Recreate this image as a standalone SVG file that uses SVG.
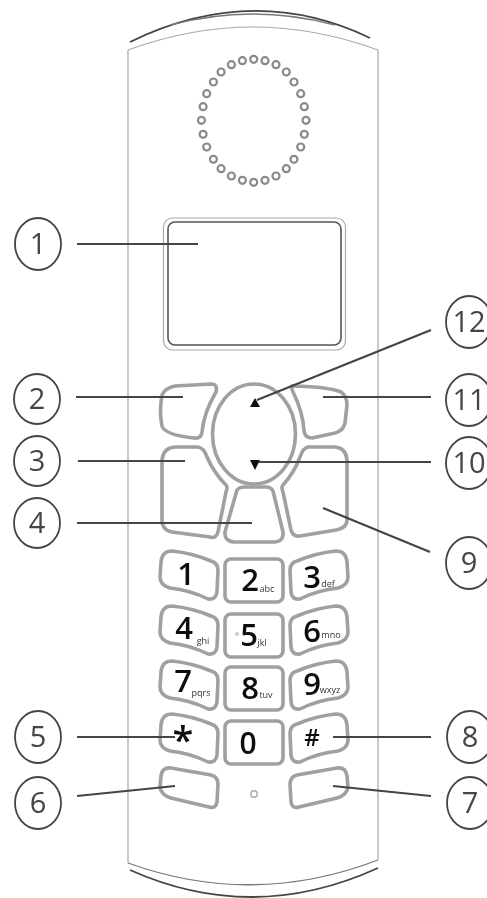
<svg xmlns="http://www.w3.org/2000/svg" width="487" height="898" viewBox="0 0 487 898">
<style>
.body{fill:none;stroke:#a8a8a8;stroke-width:1.2}
.edge{fill:none;stroke:#777;stroke-width:1.3}
.edged{fill:none;stroke:#444;stroke-width:1.8}
.key{fill:#fff;stroke:#a0a0a0;stroke-width:3.6;stroke-linejoin:round}
.dot{fill:#fff;stroke:#8a8a8a;stroke-width:2.2}
.ring{fill:#fff;stroke:#444;stroke-width:1.8}
.num{font-family:"Open Sans","Noto Sans",sans-serif;font-size:29px;fill:#444;text-anchor:middle}
.dig{font-family:"Open Sans","Noto Sans",sans-serif;font-weight:600;font-size:31px;fill:#111;text-anchor:middle}
.sub{font-family:"Open Sans","Noto Sans",sans-serif;font-size:9px;fill:#333;text-anchor:middle}
.lead{stroke:#444;stroke-width:2.2;fill:none}
</style>
<defs>
<filter id="soft" x="-5%" y="-5%" width="110%" height="110%"><feGaussianBlur stdDeviation="0.55"/></filter>
<path id="kl" d="M161,562Q162,551 172,551Q192,553 211,561Q218,563 218,570L217,592Q216,600 208,599Q190,590 170,588Q160,585 160,577Z"/>
<path id="kr" d="M347,562Q346,551 336,551Q316,553 297,561Q290,563 290,570L291,592Q292,600 300,599Q318,590 338,588Q348,585 348,577Z"/>
<rect id="kc" x="225" y="559" width="58" height="43" rx="6"/>
</defs>
<rect width="487" height="898" fill="#fff"/>
<g filter="url(#soft)">
<g id="handset">
<path class="body" d="M128,863V50M378,860V50"/>
<path class="edged" d="M130,42Q253,-18 370,38"/>
<path class="edge" d="M170,25Q253,3 335,25"/>
<path class="body" d="M128,50Q253,4 378,50"/>
<path class="edge" d="M128,863Q253,908 378,860"/>
<path class="edged" d="M130,870Q253,925 378,868"/>
</g>
<g id="speaker">
<g class="dot">
<circle cx="253.7" cy="59.3" r="3.5"/><circle cx="265" cy="60.7" r="3.5"/><circle cx="276" cy="64.7" r="3.5"/><circle cx="286.3" cy="72" r="3.5"/><circle cx="294" cy="82" r="3.5"/><circle cx="300.7" cy="93.7" r="3.5"/><circle cx="304.3" cy="106.7" r="3.5"/><circle cx="306" cy="120.3" r="3.5"/><circle cx="304.3" cy="134.3" r="3.5"/><circle cx="300.7" cy="147" r="3.5"/><circle cx="294" cy="159.3" r="3.5"/><circle cx="286.3" cy="168.7" r="3.5"/><circle cx="276" cy="176" r="3.5"/><circle cx="265" cy="180.3" r="3.5"/><circle cx="253.7" cy="182.3" r="3.5"/>
<circle cx="242.4" cy="180.3" r="3.5"/><circle cx="231.4" cy="176" r="3.5"/><circle cx="221.1" cy="168.7" r="3.5"/><circle cx="213.4" cy="159.3" r="3.5"/><circle cx="206.7" cy="147" r="3.5"/><circle cx="203.1" cy="134.3" r="3.5"/><circle cx="201.4" cy="120.3" r="3.5"/><circle cx="203.1" cy="106.7" r="3.5"/><circle cx="206.7" cy="93.7" r="3.5"/><circle cx="213.4" cy="82" r="3.5"/><circle cx="221.1" cy="72" r="3.5"/><circle cx="231.4" cy="64.7" r="3.5"/><circle cx="242.4" cy="60.7" r="3.5"/>
</g>
</g>
<g id="screen">
<rect x="163.5" y="218" width="182" height="132" rx="9" fill="none" stroke="#aaa" stroke-width="1.2"/>
<rect x="168" y="222" width="173" height="123" rx="7" fill="#fff" stroke="#555" stroke-width="1.6"/>
</g>
<g id="softkeys">
<path class="key" d="M162,395Q165,388 175,386L211,384Q218,384 216,392Q204,412 202,432Q201,439 194,438Q165,435 162,426Q159,412 162,395Z"/>
<path class="key" d="M293,386Q330,387 341,392Q347,396 347,405L345,423Q343,431 335,433L312,438Q305,438 304,431Q303,412 293,392Q290,385 293,386Z"/>
<path class="key" d="M162,460Q163,448 175,447L198,447Q204,448 207,457Q214,473 226,485Q228,487 226,492L218,532Q216,539 210,537L172,532Q162,530 162,520Z"/>
<path class="key" d="M347,460Q346,448 335,447L308,447Q303,448 300,457Q294,473 283,485Q281,487 283,492L291,530Q293,537 300,536L336,530Q347,528 347,520Z"/>
<path class="key" d="M237,490Q239,487 245,487L266,487Q271,487 273,491L283,532Q284,541 275,542L234,542Q224,541 225,532Z"/>
</g>
<g id="navkey">
<ellipse cx="254" cy="434" rx="41.5" ry="50" fill="#fff" stroke="#a0a0a0" stroke-width="3.6"/>
<path d="M255,398L250,407H260Z" fill="#111"/>
<path d="M250,460H260L255,470Z" fill="#111"/>
</g>
<g id="key1"><use href="#kl" class="key"/><text class="dig" x="186" y="585">1</text></g>
<g id="key2"><use href="#kc" class="key"/><text class="dig" x="250" y="591">2</text><text class="sub" x="267" y="592">abc</text></g>
<g id="key3"><use href="#kr" class="key"/><text class="dig" x="312" y="588">3</text><text class="sub" x="328" y="587">def</text></g>
<g id="key4"><use href="#kl" class="key" y="55"/><text class="dig" x="184" y="639">4</text><text class="sub" x="203" y="644">ghi</text></g>
<g id="key5"><use href="#kc" class="key" y="55"/><circle cx="237" cy="634" r="2" fill="#ccc"/><text class="dig" x="249" y="646">5</text><text class="sub" x="262" y="646">jkl</text></g>
<g id="key6"><use href="#kr" class="key" y="55"/><text class="dig" x="312" y="642">6</text><text class="sub" x="331" y="638">mno</text></g>
<g id="key7"><use href="#kl" class="key" y="110"/><text class="dig" x="183" y="692">7</text><text class="sub" x="201" y="696">pqrs</text></g>
<g id="key8"><use href="#kc" class="key" y="108"/><text class="dig" x="250" y="699">8</text><text class="sub" x="266" y="698">tuv</text></g>
<g id="key9"><use href="#kr" class="key" y="110"/><text class="dig" x="312" y="695">9</text><text class="sub" x="330" y="693">wxyz</text></g>
<g id="keystar"><use href="#kl" class="key" y="163"/><text class="dig" x="183" y="754" style="font-size:38px">*</text></g>
<g id="key0"><use href="#kc" class="key" y="162"/><text class="dig" x="248" y="754" style="font-size:30px">0</text></g>
<g id="keyhash"><use href="#kr" class="key" y="163"/><text class="dig" x="312" y="746" style="font-size:24px">#</text></g>
<g id="keyleft"><path class="key" d="M161,776Q162,767 171,768L211,775Q218,777 218,784L217,802Q216,809 209,807L171,798Q161,795 160,787Z"/></g>
<g id="keyright"><path class="key" d="M347,776Q346,767 337,768L297,775Q290,777 290,784L291,802Q292,809 299,807L337,798Q347,795 348,787Z"/></g>
<g id="mic"><circle cx="254" cy="794" r="3.2" fill="#fff" stroke="#aaa" stroke-width="1.4"/></g>
<g id="connectors">
<path class="lead" d="M77,244H198"/>
<path class="lead" d="M76,397H183"/>
<path class="lead" d="M78,461H185"/>
<path class="lead" d="M77,523H252"/>
<path class="lead" d="M77,737H175"/>
<path class="lead" d="M77,796L175,786"/>
<path class="lead" d="M431,796L333,786"/>
<path class="lead" d="M431,737H333"/>
<path class="lead" d="M430,552L323,508"/>
<path class="lead" d="M431,462H258"/>
<path class="lead" d="M431,397H323"/>
<path class="lead" d="M431,330L257,400"/>
</g>
<g id="label1"><ellipse class="ring" cx="38" cy="244" rx="23" ry="26"/><text class="num" x="38" y="254">1</text></g>
<g id="label2"><ellipse class="ring" cx="37" cy="399" rx="23" ry="25"/><text class="num" x="37" y="409">2</text></g>
<g id="label3"><ellipse class="ring" cx="37" cy="461" rx="23" ry="25"/><text class="num" x="37" y="471">3</text></g>
<g id="label4"><ellipse class="ring" cx="37" cy="523" rx="23" ry="25"/><text class="num" x="37" y="533">4</text></g>
<g id="label5"><ellipse class="ring" cx="38" cy="737" rx="23" ry="26"/><text class="num" x="38" y="747">5</text></g>
<g id="label6"><ellipse class="ring" cx="38" cy="803" rx="23" ry="26"/><text class="num" x="38" y="813">6</text></g>
<g id="label7"><ellipse class="ring" cx="470" cy="803" rx="23" ry="26"/><text class="num" x="470" y="813">7</text></g>
<g id="label8"><ellipse class="ring" cx="470" cy="737" rx="23" ry="26"/><text class="num" x="470" y="747">8</text></g>
<g id="label9"><ellipse class="ring" cx="469" cy="563" rx="23" ry="26"/><text class="num" x="469" y="573">9</text></g>
<g id="label10"><ellipse class="ring" cx="469" cy="463" rx="23" ry="26"/><text class="num" x="469" y="473">10</text></g>
<g id="label11"><ellipse class="ring" cx="469" cy="400" rx="23" ry="26"/><text class="num" x="469" y="410">11</text></g>
<g id="label12"><ellipse class="ring" cx="469" cy="322" rx="23" ry="26"/><text class="num" x="469" y="332">12</text></g>
</g>
</svg>
